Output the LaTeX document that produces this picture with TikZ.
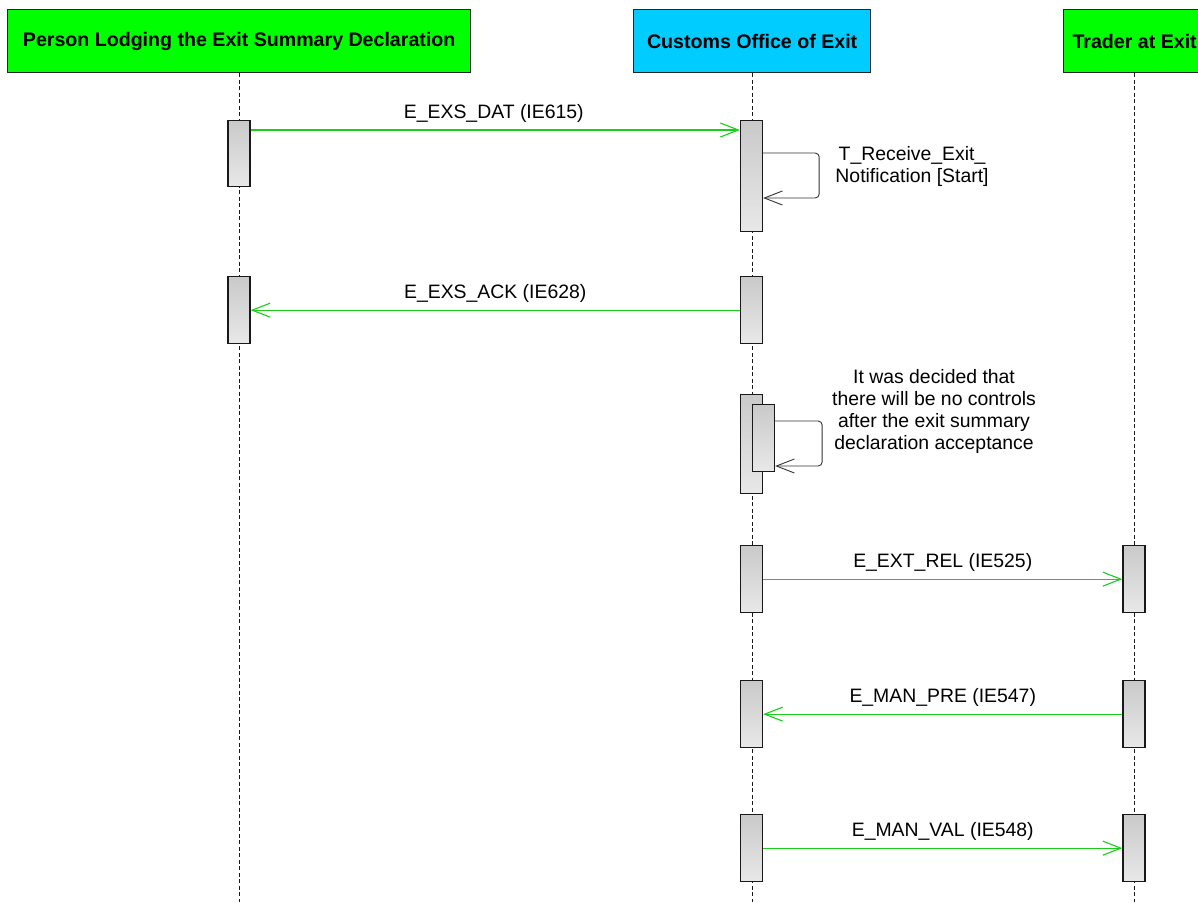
\documentclass[tikz,border=0pt]{standalone}
\usepackage{fontspec}
\setmainfont{Liberation Sans}
\usetikzlibrary{arrows.meta}
\definecolor{hdrgreen}{RGB}{0,255,0}
\definecolor{hdrcyan}{RGB}{0,204,255}
\definecolor{msggreen}{RGB}{25,205,25}
\begin{document}
\begin{tikzpicture}[x=1pt,y=-1pt,
  actor/.style={draw=black!85, line width=1.3pt, minimum height=63pt, inner sep=0pt,
    anchor=north west, font=\fontsize{19.6}{22}\selectfont\bfseries},
  actbar/.style={draw=black!90, line width=1.3pt, top color=black!21, bottom color=black!9,
    minimum width=22pt, inner sep=0pt, anchor=north},
  life/.style={dash pattern=on 4pt off 2.5pt, line width=1pt, black!90},
  msg/.style={draw=msggreen, line width=1.1pt,
    -{Straight Barb[length=18pt,width=14pt,line width=1.1pt]}},
  selfmsg/.style={draw=black!80, line width=0.9pt, rounded corners=4pt,
    -{Straight Barb[length=18pt,width=14pt,line width=0.9pt]}},
  lbl/.style={font=\fontsize{19.4}{22}\selectfont, inner sep=0pt, anchor=base, yshift=12pt},
  note/.style={font=\fontsize{19.4}{22}\selectfont, inner sep=0pt, align=center},
]
\useasboundingbox (0,0) rectangle (1198,902);
\begin{scope}
\clip (0,0) rectangle (1198,902);
% actors
\node[actor, fill=hdrgreen, minimum width=463pt] (h1) at (7,9) {Person Lodging the Exit Summary Declaration};
\node[actor, fill=hdrcyan, minimum width=237pt] (h2) at (633,9) {Customs Office of Exit};
\node[actor, fill=hdrgreen, minimum width=142pt] (h3) at (1063,9) {Trader at Exit};
% lifeline ends
\coordinate (e1) at (h1.south |- 0,902);
\coordinate (e2) at (h2.south |- 0,902);
\coordinate (e3) at (h3.south |- 0,902);
\draw[life] (h1.south) -- (e1);
\draw[life] (h2.south) -- (e2);
\draw[life] (h3.south) -- (e3);
% activation bars
\node[actbar, minimum height=66pt] (l1) at (239,120) {};
\node[actbar, minimum height=111pt] (c1) at (751.5,120) {};
\node[actbar, minimum height=67pt] (l2) at (239,276) {};
\node[actbar, minimum height=67pt] (c2) at (751.5,276) {};
\node[actbar, minimum height=99pt] (c3) at (751.5,394) {};
\node[actbar, minimum height=67pt] (c3b) at (763.5,404) {};
\node[actbar, minimum height=67pt] (c4) at (751.5,545) {};
\node[actbar, minimum height=67pt] (r4) at (1134,545) {};
\node[actbar, minimum height=67pt] (c5) at (751.5,680) {};
\node[actbar, minimum height=67pt] (r5) at (1134,680) {};
\node[actbar, minimum height=67pt] (c6) at (751.5,814) {};
\node[actbar, minimum height=67pt] (r6) at (1134,814) {};
% messages
\draw[msg] ([yshift=-10pt]l1.north east) -- node[lbl, pos=0.497] {E\_EXS\_DAT (IE615)} ([yshift=-10pt]c1.north west);
\draw[msg] (c2.west) -- node[lbl] {E\_EXS\_ACK (IE628)} (l2.east);
\draw[msg] (c4.east) -- node[lbl] {E\_EXT\_REL (IE525)} (r4.west);
\draw[msg] (r5.west) -- node[lbl] {E\_MAN\_PRE (IE547)} (c5.east);
\draw[msg] (c6.east) -- node[lbl] {E\_MAN\_VAL (IE548)} (r6.west);
% self messages
\draw[selfmsg] ([yshift=-33pt]c1.north east) -- ++(56,0) -- ++(0,45) -- ++(-56,0);
\node[note] (n1) at (912,166) {T\_Receive\_Exit\_\\Notification [Start]};
\draw[selfmsg] ([yshift=-17pt]c3b.north east) -- ++(47,0) -- ++(0,45) -- ++(-47,0);
\node[note] (n2) at (934,411) {It was decided that\\there will be no controls\\after the exit summary\\declaration acceptance};
\end{scope}
\end{tikzpicture}
\end{document}
